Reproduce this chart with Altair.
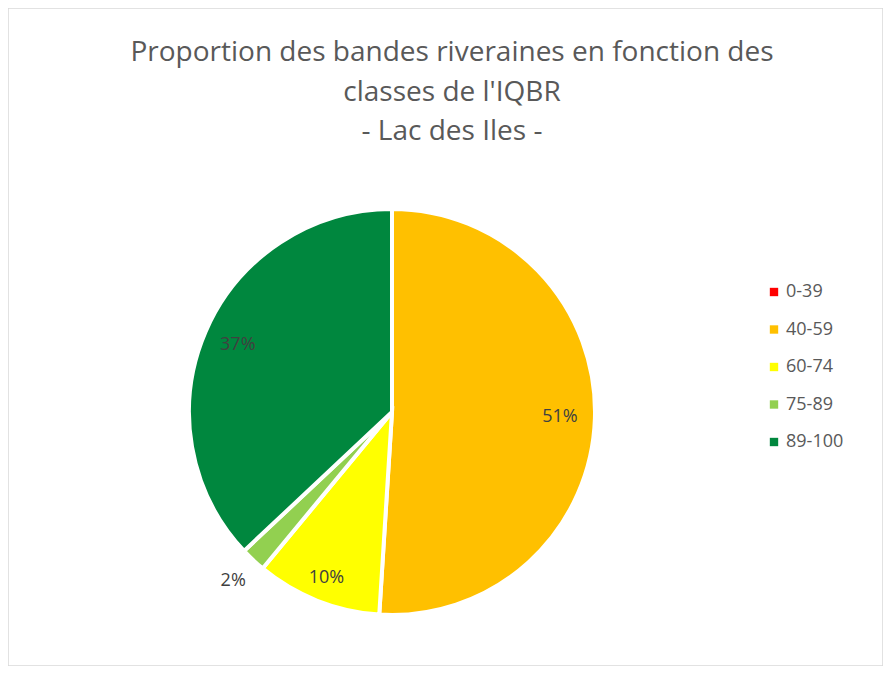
import altair as alt
import pandas as pd

classes = ["0-39", "40-59", "60-74", "75-89", "89-100"]
values = [0, 51, 10, 2, 37]
colors = ["#FF0000", "#FFC000", "#FFFF00", "#92D050", "#00873E"]
title_lines = ["Proportion des bandes riveraines en fonction des", "classes de l'IQBR", "- Lac des Iles -"]

df = pd.DataFrame({"classe": classes, "valeur": values, "ordre": list(range(len(classes)))})
FONT = "Open Sans"
CX, CY, R = 384, 404, 203

pie = alt.Chart(df).mark_arc(outerRadius=R, stroke="white", strokeWidth=4).encode(
    theta=alt.Theta("valeur:Q", stack=True),
    order=alt.Order("ordre:Q", sort="ascending"),
    color=alt.Color(
        "classe:N",
        scale=alt.Scale(domain=classes, range=colors),
        sort=classes,
        legend=alt.Legend(
            title=None, orient="none", legendX=757, legendY=275,
            symbolType="square", symbolSize=70, symbolStrokeWidth=0,
            labelFontSize=18, labelFont=FONT, labelColor="#595959",
            rowPadding=19.5, labelOffset=3,
        ),
    ),
    x=alt.value(CX), y=alt.value(CY),
)

labels = alt.Chart(df).transform_joinaggregate(
    total="sum(valeur)"
).transform_window(
    cum="sum(valeur)", sort=[alt.SortField("ordre", order="ascending")], frame=[None, 0]
).transform_filter(
    "datum.valeur > 0"
).transform_calculate(
    ang="(datum.cum - datum.valeur / 2) / datum.total * 2 * PI",
    lab="datum.valeur + '%'",
    rr="datum.valeur < 5 ? 232 : (datum.valeur < 20 ? 178 : 168)",
).mark_text(fontSize=18, font=FONT, color="#404040").encode(
    text="lab:N",
    theta=alt.Theta("ang:Q", scale=None),
    radius=alt.Radius("rr:Q", scale=None),
    x=alt.value(CX), y=alt.value(CY),
)

title = alt.Chart(pd.DataFrame({"t": [title_lines]})).mark_text(
    fontSize=28, font=FONT, color="#595959", lineHeight=39.5, baseline="middle", align="center"
).encode(text="t", x=alt.value(444), y=alt.value(45))

chart = alt.layer(pie, labels, title).properties(
    width=875, height=658, autosize=alt.AutoSizeParams(type="none"), padding=0
).configure_view(stroke="#D9D9D9", strokeWidth=1.5)

chart.save("out.html", embed_options={"renderer": "svg", "actions": False})
